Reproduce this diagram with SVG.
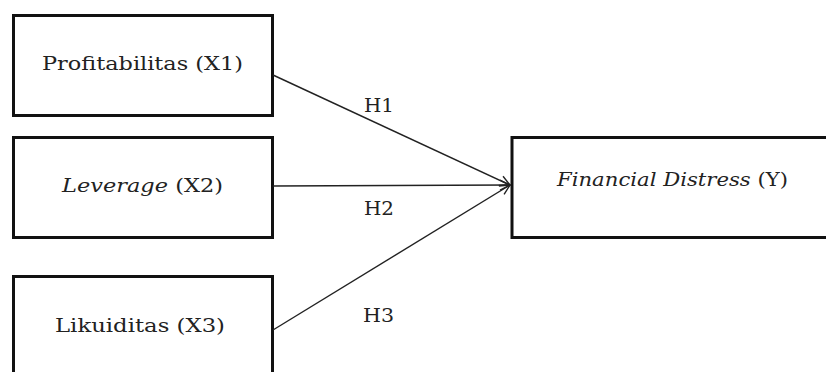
<svg xmlns="http://www.w3.org/2000/svg" width="826" height="372" viewBox="0 0 826 372">
<defs>
<style>
.box{fill:#fff;stroke:#111;stroke-width:3}
.lbl{font-family:"DejaVu Serif","Liberation Serif",serif;font-size:19px;fill:#222}
.it{font-style:italic}
.con{stroke:#222;stroke-width:1.4;fill:none;marker-end:url(#arr)}
</style>
<marker id="arr" viewBox="0 0 12 12" refX="11" refY="6" markerWidth="12" markerHeight="12" markerUnits="userSpaceOnUse" orient="auto">
<path d="M1,1 L11,6 L1,11" fill="none" stroke="#222" stroke-width="1.4"/>
</marker>
</defs>
<rect width="826" height="372" fill="#fff"/>
<g id="x1">
<rect class="box" x="13.5" y="15.5" width="259" height="100"/>
<text class="lbl" x="42" y="70" textLength="201" lengthAdjust="spacingAndGlyphs">Profitabilitas (X1)</text>
</g>
<g id="x2">
<rect class="box" x="13.5" y="137.5" width="259" height="100"/>
<text class="lbl" x="62" y="192" textLength="161" lengthAdjust="spacingAndGlyphs"><tspan class="it">Leverage</tspan> (X2)</text>
</g>
<g id="x3">
<rect class="box" x="13.5" y="276.5" width="259" height="110"/>
<text class="lbl" x="55" y="332" textLength="170" lengthAdjust="spacingAndGlyphs">Likuiditas (X3)</text>
</g>
<g id="y">
<rect class="box" x="512" y="137.5" width="320" height="100"/>
<text class="lbl" x="557" y="186" textLength="231" lengthAdjust="spacingAndGlyphs"><tspan class="it">Financial Distress</tspan> (Y)</text>
</g>
<g id="connectors">
<line class="con" x1="273" y1="75" x2="510" y2="185"/>
<line class="con" x1="273" y1="186" x2="510" y2="185"/>
<line class="con" x1="273" y1="330" x2="510" y2="185"/>
<text class="lbl" x="364" y="112" textLength="30" lengthAdjust="spacingAndGlyphs">H1</text>
<text class="lbl" x="364" y="215" textLength="30" lengthAdjust="spacingAndGlyphs">H2</text>
<text class="lbl" x="363" y="322" textLength="31" lengthAdjust="spacingAndGlyphs">H3</text>
</g>
</svg>
